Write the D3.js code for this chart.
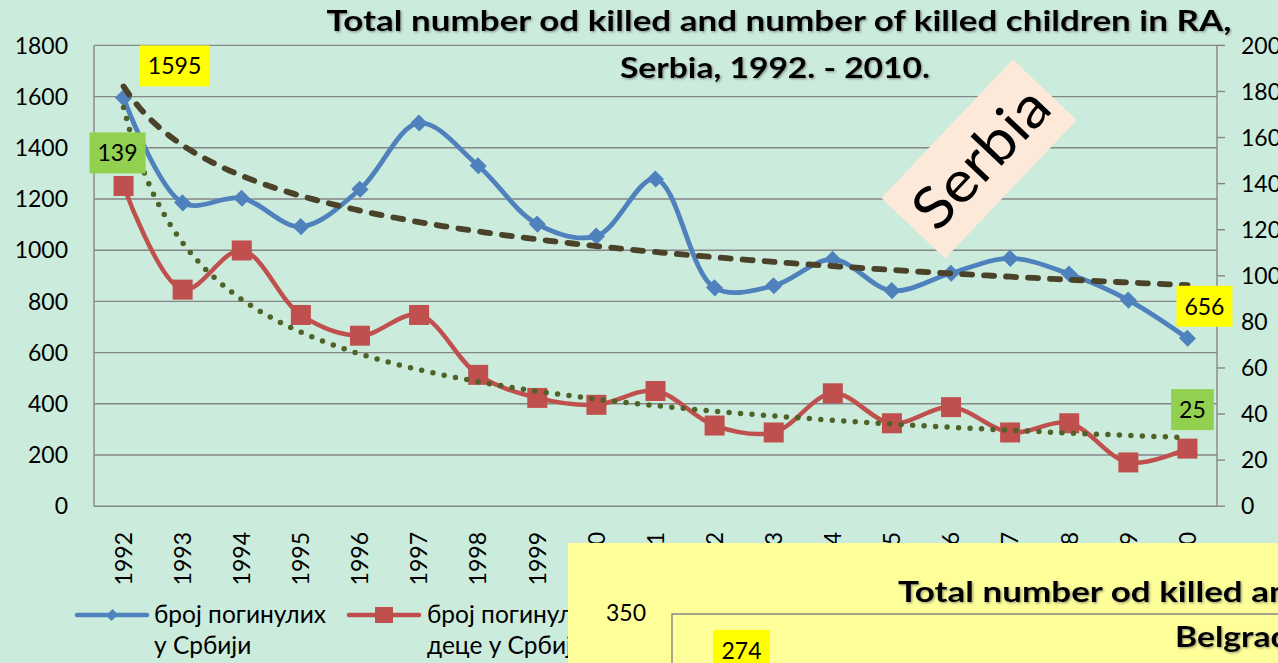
<!DOCTYPE html>
<html><head><meta charset="utf-8">
<script src="https://cdn.jsdelivr.net/npm/d3@7"></script>
<style>
html,body{margin:0;padding:0;background:#cbecdd;overflow:hidden}
svg{display:block}
text{font-family:Lato,'Open Sans','Noto Sans',sans-serif;fill:#000}
</style></head><body>
<svg id="chart" width="1278" height="663"></svg>
<script>
// ---------- data ----------
const years = [1992,1993,1994,1995,1996,1997,1998,1999,2000,2001,2002,2003,2004,2005,2006,2007,2008,2009,2010];
const killedTotal = [1595,1185,1203,1092,1238,1497,1330,1102,1055,1278,853,861,964,842,910,968,907,805,656];
const killedChildren = [139,94,111,83,74,83,57,47,44,50,35,32,49,36,43,32,36,19,25];
const leftTicks = [0,200,400,600,800,1000,1200,1400,1600,1800];
const rightTicks = [0,20,40,60,80,100,120,140,160,180,200];
const legendTotal = ["број погинулих","у Србији"];
const legendChildren = ["број погинулих","деце у Србији"];
const titleLines = ["Total number od killed and number of killed children in RA,","Serbia, 1992. - 2010."];
const stampText = "Serbia";
const insetTitleLines = ["Total number od killed and number of killed children in RA,","Belgrade, 1992. - 2010."];
const insetTickLabels = ["350"];
const insetDataLabels = ["274"];

// ---------- setup ----------
const W = 1278, H = 663;
const svg = d3.select("#chart");
const plot = {l:94, r:1217, t:45.4, b:506.2};
const gridCol = "#868686";

const x = d3.scalePoint().domain(years).range([plot.l, plot.r]).padding(0.5);
const yL = d3.scaleLinear().domain([0,1800]).range([plot.b, plot.t]);
const yR = d3.scaleLinear().domain([0,200]).range([plot.b, plot.t]);

const defs = svg.append("defs");
const sh = defs.append("filter").attr("id","shadow").attr("x","-5%").attr("y","-20%").attr("width","110%").attr("height","150%");
sh.append("feDropShadow").attr("dx",1.2).attr("dy",1.2).attr("stdDeviation",0.9).attr("flood-color","#555").attr("flood-opacity",0.6);

// gridlines
svg.append("g").selectAll("line").data(leftTicks).join("line")
  .attr("x1",plot.l).attr("x2",plot.r)
  .attr("y1",d=>yL(d)).attr("y2",d=>yL(d))
  .attr("stroke",gridCol).attr("stroke-width",1.4);

// axis lines
svg.append("line").attr("x1",plot.l).attr("x2",plot.l).attr("y1",plot.t).attr("y2",plot.b).attr("stroke",gridCol).attr("stroke-width",1.4);
svg.append("line").attr("x1",plot.r).attr("x2",plot.r).attr("y1",plot.t).attr("y2",plot.b).attr("stroke",gridCol).attr("stroke-width",1.4);

// left axis labels
svg.append("g").selectAll("text").data(leftTicks).join("text")
  .attr("x",68).attr("y",d=>yL(d)).attr("dy","0.36em")
  .attr("text-anchor","end").attr("font-size",23).text(d=>d);

// right axis ticks + labels (cut by the right edge, as in the source picture)
const rAxis = svg.append("g");
rAxis.selectAll("line").data(rightTicks).join("line")
  .attr("x1",plot.r).attr("x2",plot.r+8)
  .attr("y1",d=>yR(d)).attr("y2",d=>yR(d))
  .attr("stroke",gridCol).attr("stroke-width",1.4);
rAxis.selectAll("text").data(rightTicks).join("text")
  .attr("x",1241).attr("y",d=>yR(d)).attr("dy","0.36em")
  .attr("font-size",23).text(d=>d);

// x labels
svg.append("g").selectAll("text").data(years).join("text")
  .attr("transform",d=>`translate(${x(d)},532) rotate(-90)`)
  .attr("text-anchor","end").attr("dy","0.36em")
  .attr("font-size",23).text(d=>d);

// ---------- trendlines (power fit, as in the source) ----------
function powerFit(ys){
  const n = ys.length; let sx=0,sy=0,sxx=0,sxy=0;
  ys.forEach((v,i)=>{const lx=Math.log(i+1), ly=Math.log(v); sx+=lx; sy+=ly; sxx+=lx*lx; sxy+=lx*ly;});
  const b = (n*sxy - sx*sy)/(n*sxx - sx*sx);
  const a = Math.exp((sy - b*sx)/n);
  return t => a*Math.pow(t,b);
}
const tSteps = d3.range(1, years.length + 0.0001, 0.1);
const xAt = t => x(years[0]) + (t-1)*x.step();
const fitTotal = powerFit(killedTotal);
const fitChildren = powerFit(killedChildren);

// ---------- series ----------
const lineL = d3.line().x((d,i)=>x(years[i])).y(d=>yL(d)).curve(d3.curveCatmullRom.alpha(0.5));
const lineR = d3.line().x((d,i)=>x(years[i])).y(d=>yR(d)).curve(d3.curveCatmullRom.alpha(0.5));

const blue = "#4f81bd", red = "#c0504d";

// red series
svg.append("path").attr("d",lineR(killedChildren)).attr("fill","none").attr("stroke",red).attr("stroke-width",4.5).attr("stroke-linejoin","round");
svg.append("g").selectAll("rect").data(killedChildren).join("rect")
  .attr("x",(d,i)=>x(years[i])-10).attr("y",d=>yR(d)-10).attr("width",20).attr("height",20).attr("fill",red);

// blue series
svg.append("path").attr("d",lineL(killedTotal)).attr("fill","none").attr("stroke",blue).attr("stroke-width",4.8).attr("stroke-linejoin","round");
const diamond = d3.symbol().type(d3.symbolSquare).size(155);
svg.append("g").selectAll("path").data(killedTotal).join("path")
  .attr("d",diamond)
  .attr("transform",(d,i)=>`translate(${x(years[i])},${yL(d)}) rotate(45) scale(1,0.95)`)
  .attr("fill",blue);

// trend lines on top
svg.append("path")
  .attr("d", d3.line().x(t=>xAt(t)).y(t=>yR(fitChildren(t)))(tSteps))
  .attr("fill","none").attr("stroke","#4f6228").attr("stroke-width",5.5)
  .attr("stroke-linecap","round").attr("stroke-dasharray","0 11.5");
svg.append("path")
  .attr("d", d3.line().x(t=>xAt(t)).y(t=>yL(fitTotal(t)))(tSteps))
  .attr("fill","none").attr("stroke","#4a4229").attr("stroke-width",5.8)
  .attr("stroke-linecap","round").attr("stroke-dasharray","10 12");

// ---------- data labels ----------
function dataLabel(cx, cy, txt, fill){
  const g = svg.append("g");
  const t = g.append("text").attr("x",cx).attr("y",cy).attr("dy","0.36em").attr("text-anchor","middle").attr("font-size",23).text(txt);
  const w = t.node().getComputedTextLength();
  g.insert("rect","text").attr("x",cx-w/2-8).attr("y",cy-20.5).attr("width",w+16).attr("height",41).attr("fill",fill);
}
const last = years.length-1;
dataLabel(x(years[0])+51, yL(killedTotal[0])-32, killedTotal[0], "#ffff00");
dataLabel(x(years[0])-6, yR(killedChildren[0])-33, killedChildren[0], "#92d050");
dataLabel(x(years[last])+17, yL(killedTotal[last])-32, killedTotal[last], "#ffff00");
dataLabel(x(years[last])+5, yR(killedChildren[last])-39, killedChildren[last], "#92d050");

// ---------- title ----------
const title = svg.append("g").attr("filter","url(#shadow)");
title.append("text").attr("x",779).attr("y",31).attr("text-anchor","middle")
  .attr("font-size",28.5).attr("font-weight","bold")
  .attr("textLength",905).attr("lengthAdjust","spacingAndGlyphs").text(titleLines[0]);
title.append("text").attr("x",775).attr("y",78).attr("text-anchor","middle")
  .attr("font-size",28.5).attr("font-weight","bold")
  .attr("textLength",310).attr("lengthAdjust","spacingAndGlyphs").text(titleLines[1]);

// ---------- stamp ----------
const stamp = svg.append("g").attr("transform","translate(979,159) rotate(-46.5)");
stamp.append("rect").attr("x",-95.5).attr("y",-44).attr("width",191).attr("height",88).attr("fill","#fde9d9");
stamp.append("text").attr("x",2).attr("y",0).attr("dy","0.36em").attr("text-anchor","middle")
  .attr("font-size",58).attr("textLength",170).attr("lengthAdjust","spacingAndGlyphs").text(stampText);

// ---------- legend ----------
const lg = svg.append("g");
lg.append("line").attr("x1",77).attr("x2",147).attr("y1",615).attr("y2",615).attr("stroke",blue).attr("stroke-width",4.5).attr("stroke-linecap","round");
lg.append("path").attr("d",d3.symbol().type(d3.symbolSquare).size(60)).attr("transform","translate(112,615) rotate(45) scale(1,1.2)").attr("fill",blue);
lg.append("text").attr("x",154).attr("y",623).attr("font-size",24.5).text(legendTotal[0]);
lg.append("text").attr("x",154).attr("y",654).attr("font-size",24.5).text(legendTotal[1]);
lg.append("line").attr("x1",349).attr("x2",419).attr("y1",615).attr("y2",615).attr("stroke",red).attr("stroke-width",4.5).attr("stroke-linecap","round");
lg.append("rect").attr("x",375).attr("y",607).attr("width",18).attr("height",16).attr("fill",red);
lg.append("text").attr("x",427).attr("y",623).attr("font-size",24.5).text(legendChildren[0]);
lg.append("text").attr("x",427).attr("y",654).attr("font-size",24.5).text(legendChildren[1]);

// ---------- overlapping second chart (Belgrade) ----------
defs.append("clipPath").attr("id","insetClip").append("rect").attr("x",568).attr("y",543).attr("width",W-568).attr("height",H-543);
const inset = svg.append("g").attr("clip-path","url(#insetClip)");
inset.append("rect").attr("x",568).attr("y",543).attr("width",W-568).attr("height",H-543).attr("fill","#ffff99");
const it = inset.append("g").attr("filter","url(#shadow)");
it.append("text").attr("x",898).attr("y",602).attr("font-size",28.5).attr("font-weight","bold")
  .attr("textLength",905).attr("lengthAdjust","spacingAndGlyphs").text(insetTitleLines[0]);
it.append("text").attr("x",1175).attr("y",647).attr("font-size",29).attr("font-weight","bold")
  .attr("textLength",350).attr("lengthAdjust","spacingAndGlyphs").text(insetTitleLines[1]);
inset.append("path").attr("d",`M672,${H+5}V614H${W+5}`).attr("fill","none").attr("stroke",gridCol).attr("stroke-width",1.4);
inset.append("text").attr("x",646).attr("y",613).attr("dy","0.36em").attr("text-anchor","end").attr("font-size",23).text(insetTickLabels[0]);
inset.append("rect").attr("x",713).attr("y",630).attr("width",57).attr("height",41).attr("fill","#ffff00");
inset.append("text").attr("x",741.5).attr("y",651).attr("dy","0.36em").attr("text-anchor","middle").attr("font-size",23).text(insetDataLabels[0]);
</script>
</body></html>
